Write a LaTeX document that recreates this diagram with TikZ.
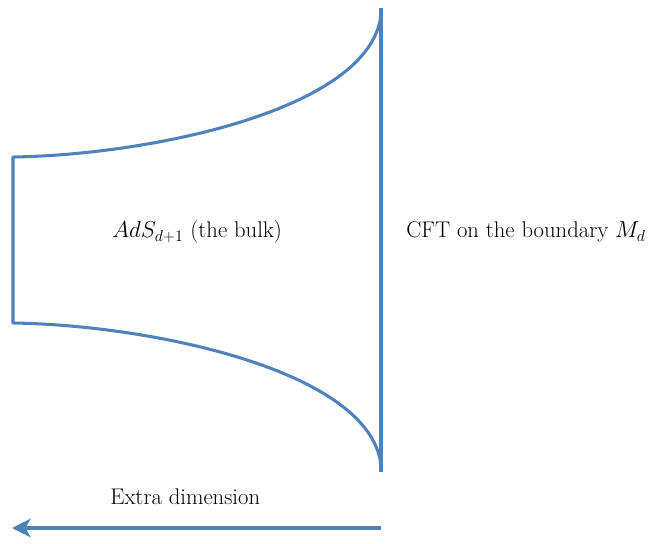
\documentclass[tikz,border=0pt]{standalone}
\usetikzlibrary{arrows.meta}
\definecolor{bordeazul}{RGB}{79,129,189}
\tikzset{
  borde/.style={draw=bordeazul, line width=2.3pt, line join=round},
  etiqueta/.style={font=\fontsize{17}{20}\selectfont, inner sep=0pt},
}
\begin{document}
\begin{tikzpicture}[x=0.75pt,y=-0.75pt] %Bulk y frontera
            \useasboundingbox (0,0) rectangle (649,543);

            \coordinate (A) at (13,157);
            \coordinate (B) at (13,323);
            \coordinate (C) at (381,15);
            \coordinate (D) at (381,465);
            \coordinate (Ctop) at (381,8);
            \coordinate (Dbot) at (381,472);

            \draw[borde] (C) .. controls (370,110) and (150,155) .. (A) -- (B)
                .. controls (150,325) and (370,370) .. (D);
            \draw[borde] (Ctop) -- (Dbot);

            \node[etiqueta, anchor=west] (bulk) at (112,232) {$AdS_{d+1}$ (the bulk)};
            \node[etiqueta, anchor=west] (cft) at (406,232) {CFT on the boundary $M_d$};

            \coordinate (E) at (381,528);
            \coordinate (F) at (12,528);
            \draw[borde, -{Stealth[length=14pt,width=14pt,inset=4pt]}] (E) -- (F);
            \node[etiqueta, anchor=west] (extra) at (110,497) {Extra dimension};
        \end{tikzpicture}
\end{document}
